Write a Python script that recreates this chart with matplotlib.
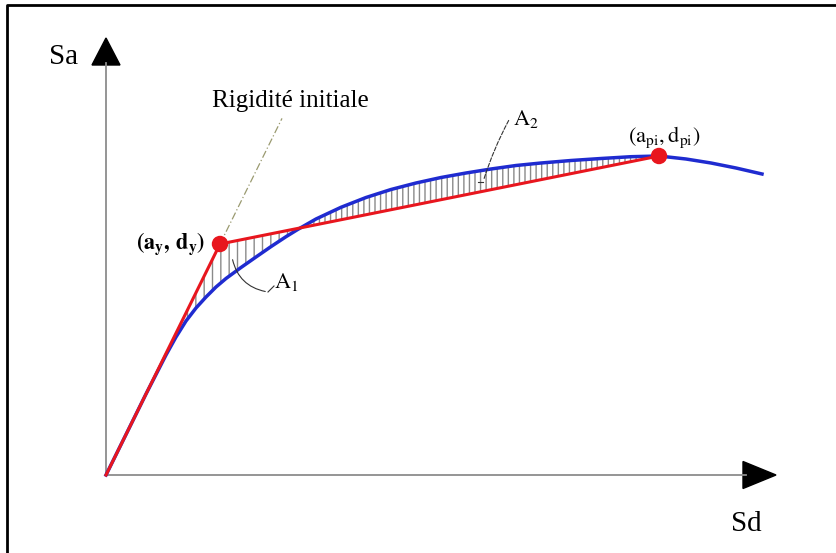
import matplotlib
matplotlib.use('Agg')
import matplotlib.pyplot as plt
from matplotlib.patches import FancyArrowPatch

# capacity curve (blue) (Sd, Sa in picture units)
curve_sd = [0, 40, 60, 70, 80, 90, 100, 110, 120, 135, 150, 165, 180, 192, 210, 235, 260,
            285, 310, 335, 360, 385, 410, 435, 465, 495, 525, 553, 580, 605, 630, 656]
curve_sa = [0, 81, 120, 138, 154, 167, 178, 188, 196.5, 207.5, 218, 228.4, 238.3, 245.7,
            256, 267.7, 277.5, 285.5, 292, 297.5, 302, 306, 309.5, 312, 314.5, 316.5,
            318.3, 319, 316, 312, 307, 301]

# bilinear idealisation (red): origin, yield point, performance point
bilin_sd = [0, 114, 553]
bilin_sa = [0, 231, 319]
cross_idx = 13   # index in the curve where red and blue cross
peak_idx = 27    # index of the performance point on the curve

RED = '#e8161e'
BLUE = '#1f2bd0'
HATCH = '#8a8a8a'

plt.rcParams['font.family'] = ['Liberation Serif', 'DejaVu Serif']
plt.rcParams['mathtext.fontset'] = 'stix'
plt.rcParams['hatch.color'] = HATCH
plt.rcParams['hatch.linewidth'] = 1.0

fig = plt.figure(figsize=(8.36, 5.53), dpi=100)
ax = fig.add_axes([0, 0, 1, 1])
ax.set_xlim(-106, 730)
ax.set_ylim(-78, 475)
ax.axis('off')

# outer frame (top and left only)
ax.plot([-99.5, -99.5, 730], [-78, 470.5, 470.5], color='black', lw=2, clip_on=False)

# axes with arrow heads
ax.plot([0, 0], [0, 412], color='#8c8c8c', lw=1.3)
ax.plot([0, 640], [0, 0], color='#8c8c8c', lw=1.3)
ax.fill([-14, 14, 0], [410, 410, 437], color='black')
ax.fill([637, 637, 670], [13.5, -13.5, 0], color='black')

# hatched areas A1 and A2
a1_x = bilin_sd[:2] + curve_sd[cross_idx::-1]
a1_y = bilin_sa[:2] + curve_sa[cross_idx::-1]
ax.fill(a1_x, a1_y, facecolor='none', edgecolor=HATCH, lw=0, hatch='||', zorder=1)
a2_x = curve_sd[cross_idx:peak_idx + 1] + [curve_sd[cross_idx]]
a2_y = curve_sa[cross_idx:peak_idx + 1] + [curve_sa[cross_idx]]
ax.fill(a2_x, a2_y, facecolor='none', edgecolor=HATCH, lw=0, hatch='|||', zorder=1)

# initial stiffness guide
k0 = bilin_sa[1] / bilin_sd[1]
ax.plot([bilin_sd[1], 176], [bilin_sa[1], k0 * 176], color='#9a9a70', lw=0.9,
        ls=(0, (6, 2, 1, 2)), zorder=2)

ax.plot(curve_sd, curve_sa, color=BLUE, lw=2.5, zorder=3)
ax.plot(bilin_sd, bilin_sa, color=RED, lw=2.2, zorder=4)
ax.scatter([bilin_sd[1], bilin_sd[2]], [bilin_sa[1], bilin_sa[2]], s=140,
           color=RED, zorder=5, edgecolors='none')

# labels
ax.text(-42, 418, 'Sa', fontsize=21, ha='center', va='center')
ax.text(640, -49, 'Sd', fontsize=21, ha='center', va='center')
ax.text(184, 374, 'Rigidité initiale', fontsize=18, ha='center', va='center')
ax.text(65, 231, r'$\mathbf{(a_{y},\,d_{y})}$', fontsize=16, ha='center', va='center')
ax.text(558, 338, r'$\mathrm{(a_{pi},d_{pi})}$', fontsize=16, ha='center', va='center')
ax.text(180, 193, r'$\mathrm{A_{1}}$', fontsize=16, ha='center', va='center')
ax.text(420, 356, r'$\mathrm{A_{2}}$', fontsize=16, ha='center', va='center')

# leader lines to the areas
ax.add_patch(FancyArrowPatch((126, 218), (162, 183), arrowstyle='-', color='#333333',
                             lw=0.8, connectionstyle='arc3,rad=0.35', zorder=6))
ax.plot([162, 168], [183, 189], color='#333333', lw=0.8, zorder=6)
ax.add_patch(FancyArrowPatch((404, 357), (377, 293), arrowstyle='-', color='#333333',
                             lw=0.8, ls='--', connectionstyle='arc3,rad=0.05', zorder=6))
ax.plot([377, 372], [293, 293], color='#333333', lw=0.8, zorder=6)

plt.savefig('out.png', dpi=100)
